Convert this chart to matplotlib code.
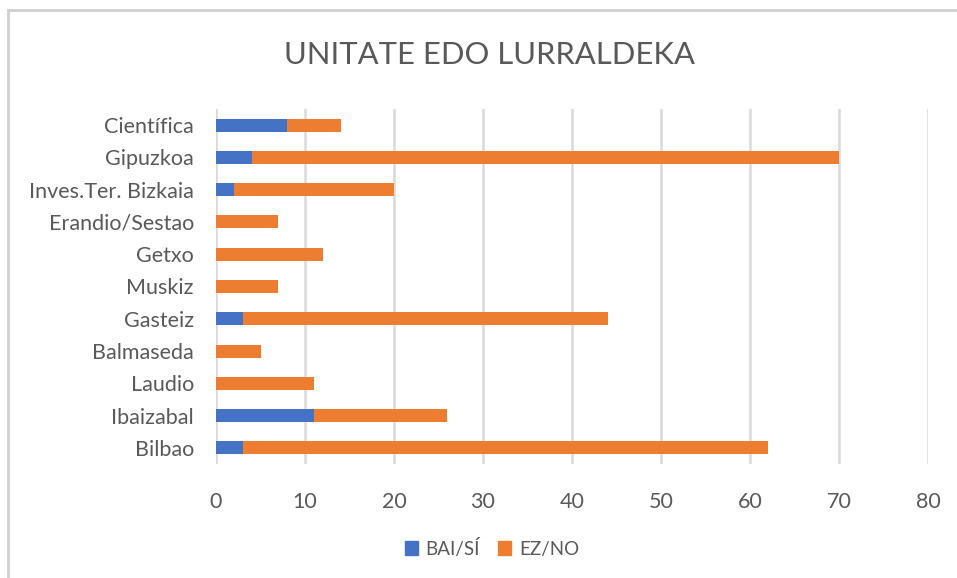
import numpy as np
import matplotlib
matplotlib.use("Agg")
import matplotlib.pyplot as plt
from matplotlib.lines import Line2D
from matplotlib.patches import Patch

plt.rcParams['font.family'] = ['Lato', 'DejaVu Sans']

# data (top to bottom as shown)
categories = ["Científica", "Gipuzkoa", "Inves.Ter. Bizkaia", "Erandio/Sestao",
              "Getxo", "Muskiz", "Gasteiz", "Balmaseda", "Laudio",
              "Ibaizabal", "Bilbao"]
bai_si = [8, 4, 2, 0, 0, 0, 3, 0, 0, 11, 3]
ez_no = [6, 66, 18, 7, 12, 7, 41, 5, 11, 15, 59]
xticks = [0, 10, 20, 30, 40, 50, 60, 70, 80]

blue = "#4472C4"
orange = "#ED7D31"
txt = "#595959"
grid = "#D9D9D9"

fig = plt.figure(figsize=(9.57, 5.78), dpi=100)
ax = fig.add_axes([216/957, 1-464/578, 712/957, 355/578])

y = np.arange(len(categories))[::-1]
ax.barh(y, bai_si, height=0.4, color=blue, label="BAI/SÍ", zorder=3)
ax.barh(y, ez_no, left=bai_si, height=0.4, color=orange, label="EZ/NO", zorder=3)

ax.set_xlim(0, 80)
ax.set_ylim(-0.5, len(categories)-0.5)
ax.set_xticks(xticks)
ax.set_yticks(y)
ax.set_yticklabels(categories)
ax.tick_params(axis='both', length=0, labelsize=15.5, colors=txt)
ax.tick_params(axis='y', pad=16)
ax.tick_params(axis='x', pad=20)
ax.xaxis.grid(True, color=grid, lw=1.8, zorder=0)
for s in ax.spines.values():
    s.set_visible(False)

fig.text(489/957, 1-55/578, "UNITATE EDO LURRALDEKA", ha='center', va='center',
         fontsize=22.3, color=txt)

handles = [Patch(color=blue), Patch(color=orange)]
fig.legend(handles, ["BAI/SÍ", "EZ/NO"], loc='center', bbox_to_anchor=(492/957, 1-548/578),
           ncol=2, frameon=False, fontsize=13.5, labelcolor=txt,
           handlelength=0.7, handleheight=0.7, handletextpad=0.43, columnspacing=0.96)

# chart border
fig.add_artist(Line2D([8/957, 8/957], [0, 1-10/578], color="#D0D0D0", lw=2))
fig.add_artist(Line2D([8/957, 1], [1-10/578, 1-10/578], color="#D0D0D0", lw=2))

fig.savefig("out.png", dpi=100, facecolor="white")
